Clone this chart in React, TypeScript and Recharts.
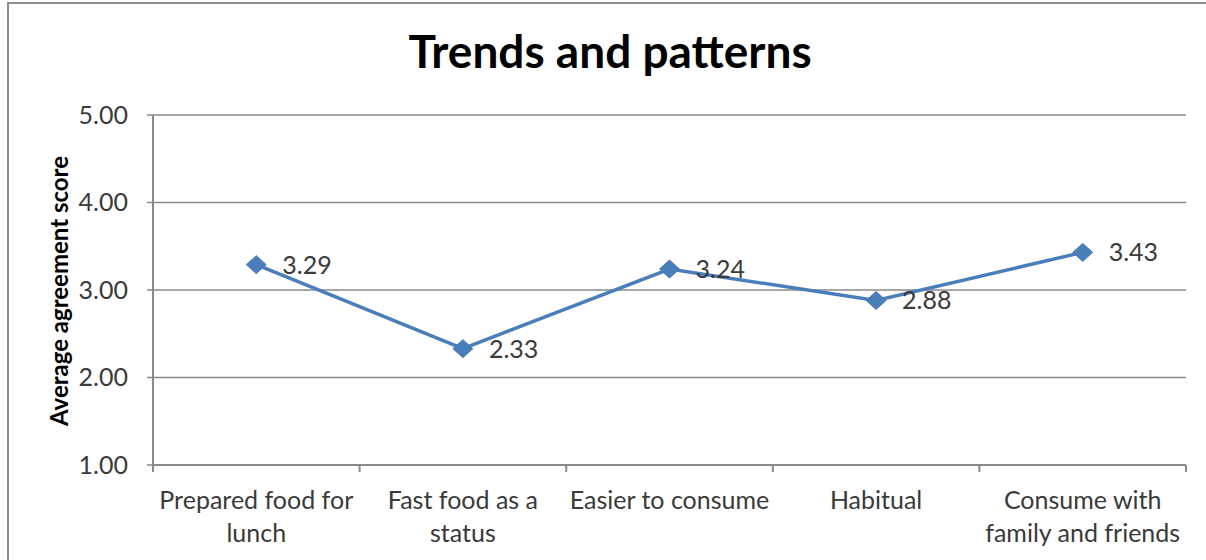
import { LineChart, Line, XAxis, YAxis, CartesianGrid, LabelList } from "recharts";

const categories = [
  "Prepared food for\nlunch",
  "Fast food as a\nstatus",
  "Easier to consume",
  "Habitual",
  "Consume with\nfamily and friends",
];
const scores = [3.29, 2.33, 3.24, 2.88, 3.43];
const yTicks = [1, 2, 3, 4, 5];

const W = 1206;
const H = 560;
const margin = { top: 115, right: 20, bottom: 0, left: 0 };
const yAxisWidth = 153;
const band = (W - margin.left - margin.right - yAxisWidth) / categories.length;

const FONT = "Lato, 'Open Sans', sans-serif";
const TEXT = "#3a3a3a";
const GRID = "#8a8a8a";
const BLUE = "#4A7EBB";

const data = categories.map((name, i) => ({ name, value: scores[i] }));

function XTick(props: any) {
  const { x, y, payload, index } = props;
  const lines = String(payload.value).split("\n");
  return (
    <g>
      <line x1={x - band / 2} y1={y} x2={x - band / 2} y2={y + 7} stroke={GRID} strokeWidth={2} />
      {index === categories.length - 1 && (
        <line x1={x + band / 2} y1={y} x2={x + band / 2} y2={y + 7} stroke={GRID} strokeWidth={2} />
      )}
      <text x={x} y={y + 44} textAnchor="middle" fill={TEXT} fontSize={25} fontFamily={FONT}>
        {lines.map((l, i) => (
          <tspan key={i} x={x} dy={i === 0 ? 0 : 33}>
            {l}
          </tspan>
        ))}
      </text>
    </g>
  );
}

function Diamond(props: any) {
  const { cx, cy, index } = props;
  if (cx == null || cy == null) return <g key={index} />;
  return (
    <polygon
      key={index}
      points={`${cx},${cy - 9} ${cx + 10},${cy} ${cx},${cy + 9} ${cx - 10},${cy}`}
      fill={BLUE}
      stroke={BLUE}
      strokeWidth={1}
    />
  );
}

export default function App() {
  return (
    <div style={{ position: "fixed", left: 0, top: 0, width: W, height: H, background: "#fff", overflow: "hidden" }}>
      <div
        style={{
          position: "absolute",
          left: 7,
          top: 2,
          width: W,
          height: H,
          borderTop: "2px solid #8c8c8c",
          borderLeft: "2px solid #8c8c8c",
        }}
      />
      <div
        style={{
          position: "absolute",
          left: 310,
          width: 600,
          top: 28,
          textAlign: "center",
          fontFamily: FONT,
          fontWeight: 700,
          fontSize: 46,
          lineHeight: "46px",
          color: "#000",
        }}
      >
        Trends and patterns
      </div>
      <div style={{ position: "absolute", left: 0, top: 0 }}>
        <LineChart width={W} height={H} data={data} margin={margin}>
          <CartesianGrid horizontal vertical={false} stroke={GRID} strokeWidth={1.5} />
          <XAxis
            dataKey="name"
            height={95}
            interval={0}
            padding={{ left: band / 2, right: band / 2 }}
            tickLine={false}
            tickSize={0}
            tickMargin={0}
            axisLine={{ stroke: GRID, strokeWidth: 2 }}
            tick={<XTick />}
          />
          <YAxis
            width={yAxisWidth}
            domain={[1, 5]}
            ticks={yTicks}
            tickFormatter={(v: number) => v.toFixed(2)}
            tickSize={6}
            tickMargin={19}
            tickLine={{ stroke: GRID, strokeWidth: 1.5 }}
            axisLine={{ stroke: GRID, strokeWidth: 2 }}
            tick={{ fill: TEXT, fontSize: 25, fontFamily: FONT }}
            label={{
              content: () => (
                <text
                  x={0}
                  y={0}
                  transform="translate(68,291) rotate(-90)"
                  textAnchor="middle"
                  fill="#000"
                  fontSize={24}
                  fontWeight={700}
                  fontFamily={FONT}
                >
                  Average agreement score
                </text>
              ),
            }}
          />
          <Line
            type="linear"
            dataKey="value"
            stroke={BLUE}
            strokeWidth={3.5}
            dot={Diamond}
            activeDot={false}
            isAnimationActive={false}
          >
            <LabelList
              dataKey="value"
              position="right"
              offset={26}
              formatter={(v: any) => Number(v).toFixed(2)}
              fill={TEXT}
              fontSize={25}
              fontFamily={FONT}
            />
          </Line>
        </LineChart>
      </div>
    </div>
  );
}
